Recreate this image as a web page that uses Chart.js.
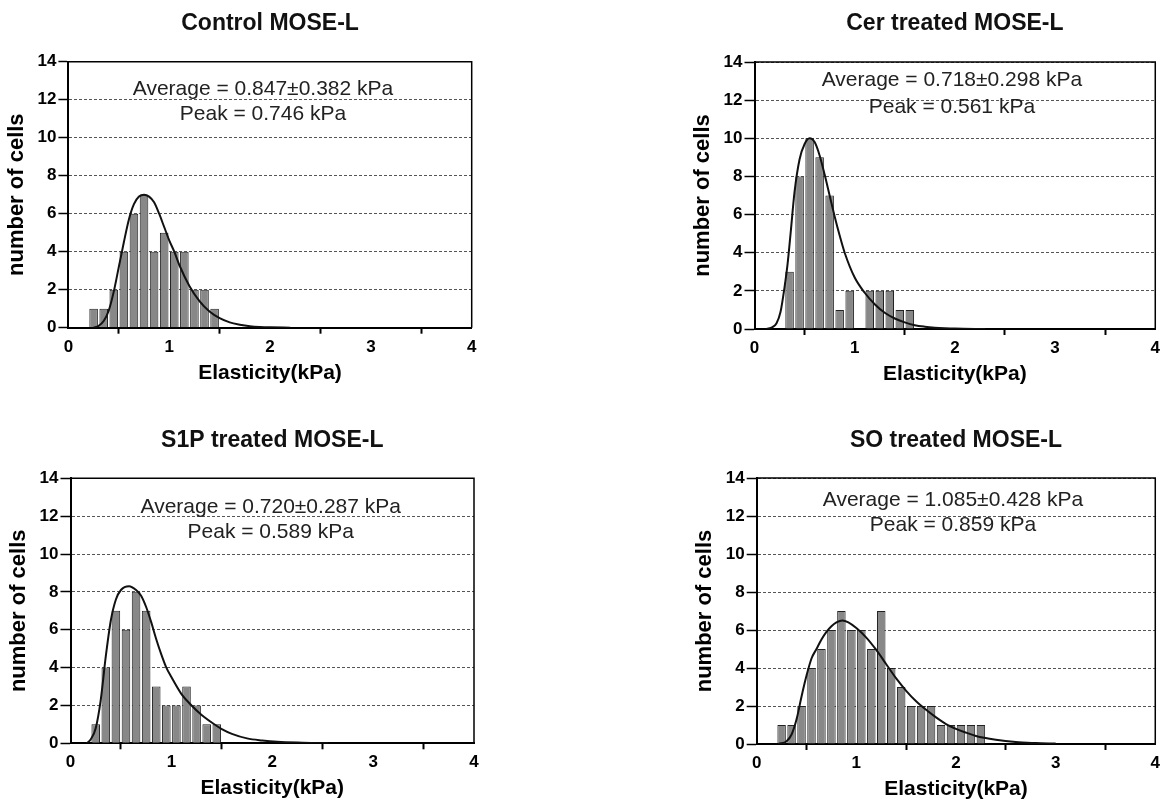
<!DOCTYPE html>
<html>
<head>
<meta charset="utf-8">
<script src="https://cdn.jsdelivr.net/npm/chart.js@4.4.1/dist/chart.umd.min.js"></script>
<style>
html,body{margin:0;padding:0;background:#fff;width:1163px;height:805px;overflow:hidden;}
.panel{position:absolute;}
canvas{display:block;}
</style>
</head>
<body>
<div class="panel" style="left:0px;top:0px"><canvas id="c1" width="486" height="402"></canvas></div>
<div class="panel" style="left:686px;top:0px"><canvas id="c2" width="477" height="402"></canvas></div>
<div class="panel" style="left:0px;top:405px"><canvas id="c3" width="486" height="400"></canvas></div>
<div class="panel" style="left:686px;top:405px"><canvas id="c4" width="477" height="400"></canvas></div>
<script>
// ---------- DATA ----------
const titles = ["Control MOSE-L", "Cer treated MOSE-L", "S1P treated MOSE-L", "SO treated MOSE-L"];
const avgTexts = ["Average = 0.847\u00b10.382 kPa", "Average = 0.718\u00b10.298 kPa", "Average = 0.720\u00b10.287 kPa", "Average = 1.085\u00b10.428 kPa"];
const peakTexts = ["Peak = 0.746 kPa", "Peak = 0.561 kPa", "Peak = 0.589 kPa", "Peak = 0.859 kPa"];
const xAxisTitle = "Elasticity(kPa)";
const yAxisTitle = "number of cells";
const xTickValues = [0, 1, 2, 3, 4];
const yTickValues = [0, 2, 4, 6, 8, 10, 12, 14];

// histogram bins (bin centres, kPa) and counts
const ctrlBins   = [0.25,0.35,0.45,0.55,0.65,0.75,0.85,0.95,1.05,1.15,1.25,1.35,1.45];
const ctrlCounts = [1,1,2,4,6,7,4,5,4,4,2,2,1];
const cerBins    = [0.35,0.45,0.55,0.65,0.75,0.85,0.95,1.05,1.15,1.25,1.35,1.45,1.55];
const cerCounts  = [3,8,10,9,7,1,2,0,2,2,2,1,1];
const s1pBins    = [0.25,0.35,0.45,0.55,0.65,0.75,0.85,0.95,1.05,1.15,1.25,1.35,1.45];
const s1pCounts  = [1,4,7,6,8,7,3,2,2,3,2,1,1];
const soBins     = [0.25,0.35,0.45,0.55,0.65,0.75,0.85,0.95,1.05,1.15,1.25,1.35,1.45,1.55,1.65,1.75,1.85,1.95,2.05,2.15,2.25];
const soCounts   = [1,1,2,4,5,6,7,6,6,5,7,4,3,2,2,2,1,1,1,1,1];

// fitted curves
const ctrlCurveX = [0.25,0.30,0.35,0.40,0.45,0.50,0.55,0.60,0.65,0.70,0.75,0.80,0.85,0.90,0.95,1.00,1.05,1.10,1.20,1.30,1.40,1.50,1.60,1.70,1.80,1.90,2.00,2.20];
const ctrlCurveY = [0,0.1,0.35,0.9,1.9,3.2,4.5,5.7,6.5,6.9,7.0,6.9,6.6,6.0,5.3,4.6,4.0,3.3,2.2,1.4,0.85,0.5,0.28,0.16,0.08,0.04,0.02,0];
const cerCurveX  = [0.12,0.18,0.22,0.26,0.30,0.33,0.36,0.40,0.45,0.50,0.55,0.60,0.65,0.70,0.75,0.80,0.85,0.90,1.00,1.10,1.20,1.30,1.40,1.50,1.60,1.70,1.80,1.90,2.00,2.30];
const cerCurveY  = [0,0.1,0.3,0.9,2.2,3.4,5.0,7.2,8.9,9.7,10.0,9.8,9.1,8.1,7.0,5.9,4.9,4.0,2.7,1.9,1.3,0.85,0.55,0.35,0.2,0.12,0.07,0.04,0.02,0];
const s1pCurveX  = [0.16,0.20,0.25,0.30,0.35,0.40,0.45,0.50,0.58,0.65,0.70,0.75,0.80,0.85,0.90,0.95,1.00,1.10,1.20,1.30,1.40,1.50,1.60,1.75,1.90,2.05,2.30,2.55];
const s1pCurveY  = [0,0.2,0.8,2.3,4.6,6.5,7.6,8.1,8.3,8.1,7.8,7.2,6.4,5.5,4.7,4.0,3.5,2.6,2.0,1.5,1.1,0.75,0.5,0.26,0.15,0.08,0.03,0];
const soCurveX   = [0.22,0.30,0.35,0.40,0.45,0.50,0.55,0.60,0.65,0.70,0.75,0.80,0.86,0.92,1.00,1.10,1.20,1.30,1.40,1.50,1.60,1.70,1.80,1.90,2.00,2.10,2.20,2.40,2.60,2.80,3.00];
const soCurveY   = [0,0.15,0.5,1.3,2.5,3.6,4.5,5.0,5.5,5.9,6.2,6.4,6.5,6.4,6.1,5.6,4.95,4.2,3.45,2.8,2.25,1.8,1.4,1.05,0.8,0.6,0.42,0.22,0.1,0.05,0.02];

// ---------- STYLE / LAYOUT ----------
const FONT = "'Liberation Sans', Arial, Helvetica, sans-serif";
Chart.defaults.font.family = FONT;
Chart.defaults.color = '#000';

const framePlugin = {
  id: 'frame',
  afterDatasetsDraw(chart) {
    const {ctx, chartArea: a} = chart;
    ctx.save();
    ctx.strokeStyle = '#000';
    ctx.lineWidth = 1.5;
    ctx.beginPath();
    ctx.moveTo(a.left, a.top);
    ctx.lineTo(a.right, a.top);
    ctx.lineTo(a.right, a.bottom);
    ctx.stroke();
    ctx.restore();
  }
};

const notesPlugin = {
  id: 'notes',
  afterDatasetsDraw(chart, args, opts) {
    const {ctx, scales: {x, y}} = chart;
    ctx.save();
    ctx.font = '21px ' + FONT;
    ctx.fillStyle = '#222';
    ctx.textAlign = 'center';
    ctx.textBaseline = 'middle';
    opts.lines.forEach(l => ctx.fillText(l.text, x.getPixelForValue(opts.x), y.getPixelForValue(l.y)));
    ctx.restore();
  }
};

function makePanel(id, geo, bins, counts, cx, cy, idx, note) {
  const canvas = document.getElementById(id);
  const l = geo.L - geo.ox, r = geo.R - geo.ox, t = geo.T - geo.oy, b = geo.B - geo.oy;
  const tcy = geo.titleCy - geo.oy, ycx = geo.ylabCx - geo.ox;
  const XH = 58;
  new Chart(canvas, {
    type: 'bar',
    data: {
      datasets: [
        { type: 'line', data: cx.map((v, i) => ({x: v, y: cy[i]})), borderColor: '#111', borderWidth: 2,
          pointRadius: 0, cubicInterpolationMode: 'monotone', fill: false, order: 0 },
        { type: 'bar', data: bins.map((v, i) => ({x: v, y: counts[i]})), backgroundColor: '#888888',
          borderColor: '#222', borderWidth: 1, barPercentage: 0.85, categoryPercentage: 1, order: 1 }
      ]
    },
    options: {
      responsive: false, animation: false, devicePixelRatio: 1,
      layout: { padding: { left: 0, right: geo.w - r, top: 0, bottom: geo.h - b - XH } },
      plugins: {
        legend: { display: false }, tooltip: { enabled: false },
        title: { display: true, text: titles[idx], fullSize: false, color: '#111',
          font: { size: 23, weight: 'bold', lineHeight: 1.2 },
          padding: { top: tcy - 13.8, bottom: t - tcy - 13.8 } },
        notes: { x: note.x, lines: [{text: avgTexts[idx], y: note.avg}, {text: peakTexts[idx], y: note.peak}] }
      },
      scales: {
        x: {
          type: 'linear', min: xTickValues[0], max: xTickValues[xTickValues.length - 1], offset: false,
          afterFit(s) { s.height = XH; },
          afterBuildTicks(s) { s.ticks = xTickValues.map(v => ({value: v})); },
          ticks: { font: { size: 17, weight: 'bold' }, color: '#000', padding: 3, maxRotation: 0 },
          grid: { drawOnChartArea: false, tickLength: 6, tickColor: '#000', tickWidth: 2 },
          border: { color: '#000', width: 2 },
          title: { display: true, text: xAxisTitle, color: '#000', font: { size: 21, weight: 'bold', lineHeight: 1.2 }, padding: { top: 0, bottom: 0 } }
        },
        y: {
          min: yTickValues[0], max: yTickValues[yTickValues.length - 1],
          afterFit(s) { s.width = l; },
          afterBuildTicks(s) { s.ticks = yTickValues.map(v => ({value: v})); },
          ticks: { font: { size: 17, weight: 'bold' }, color: '#000', padding: 2 },
          grid: { color: '#555', lineWidth: 1, tickLength: 10, tickColor: '#000', tickWidth: 1.5, tickBorderDash: [] },
          border: { color: '#000', width: 2, dash: [3, 2] },
          title: { display: true, text: yAxisTitle, color: '#000', font: { size: 22, weight: 'bold', lineHeight: 1.2 }, padding: { top: ycx - 13.2, bottom: 0 } }
        }
      }
    },
    plugins: [framePlugin, notesPlugin]
  });
}

makePanel('c1', {ox: 0,   oy: 0,   w: 486, h: 402, L: 68.4,  R: 471.7,  T: 61.7,  B: 327.7, titleCy: 23.3, ylabCx: 16.7},
  ctrlBins, ctrlCounts, ctrlCurveX, ctrlCurveY, 0, {x: 1.93, avg: 12.55, peak: 11.26});
makePanel('c2', {ox: 686, oy: 0,   w: 477, h: 402, L: 754.5, R: 1157.5, T: 62,    B: 329,   titleCy: 23.3, ylabCx: 702.8},
  cerBins, cerCounts, cerCurveX, cerCurveY, 1, {x: 1.97, avg: 13.06, peak: 11.64});
makePanel('c3', {ox: 0,   oy: 405, w: 486, h: 400, L: 70.5,  R: 474,    T: 478.3, B: 743.3, titleCy: 441,  ylabCx: 18.8},
  s1pBins, s1pCounts, s1pCurveX, s1pCurveY, 2, {x: 1.985, avg: 12.47, peak: 11.17});
makePanel('c4', {ox: 686, oy: 405, w: 477, h: 400, L: 756.7, R: 1156,   T: 478,   B: 744,   titleCy: 441,  ylabCx: 705},
  soBins, soCounts, soCurveX, soCurveY, 3, {x: 1.97, avg: 12.83, peak: 11.54});
</script>
</body>
</html>
